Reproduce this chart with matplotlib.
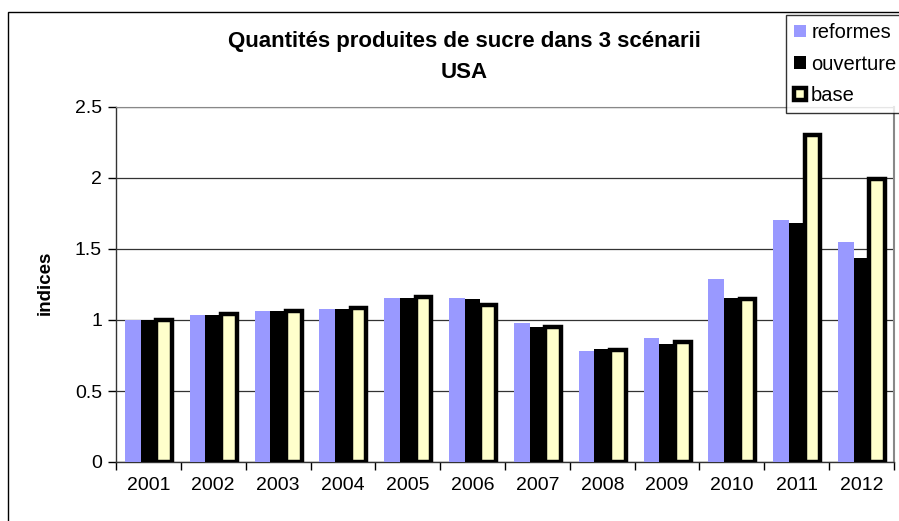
import matplotlib
matplotlib.use("Agg")
import matplotlib.pyplot as plt
import numpy as np
from matplotlib.patches import Rectangle

years = ["2001", "2002", "2003", "2004", "2005", "2006", "2007", "2008", "2009", "2010", "2011", "2012"]
reformes = [1.00, 1.035, 1.063, 1.077, 1.157, 1.157, 0.979, 0.782, 0.873, 1.288, 1.703, 1.548]
ouverture = [1.00, 1.035, 1.063, 1.077, 1.157, 1.148, 0.951, 0.796, 0.831, 1.155, 1.682, 1.436]
base = [1.00, 1.04, 1.065, 1.085, 1.16, 1.108, 0.95, 0.787, 0.848, 1.146, 2.30, 1.993]
yticks = [0, 0.5, 1, 1.5, 2, 2.5]
ytick_labels = ["0", "0.5", "1", "1.5", "2", "2.5"]

plt.rcParams['font.family'] = ['Liberation Sans', 'DejaVu Sans']

W, H = 899, 521
fig = plt.figure(figsize=(W / 100, H / 100), dpi=100)
fig.patch.set_facecolor("white")

# outer chart border
fig.patches.append(Rectangle((8 / W, -0.05), 1.2, (H - 12) / H + 0.05, transform=fig.transFigure,
                             fill=False, edgecolor="black", linewidth=1.0))

ax = fig.add_axes([116 / W, (H - 462) / H, (894 - 116) / W, (462 - 107) / H])
x = np.arange(len(years))
w = 0.241
ax.bar(x - w, reformes, w, color="#9999FF", linewidth=0, label="reformes", zorder=3)
ax.bar(x, ouverture, w, color="black", linewidth=0, label="ouverture", zorder=3)
ax.bar(x + w, base, w, color="#FFFFCC", edgecolor="black", linewidth=3.2, label="base", zorder=4)

ax.set_xlim(-0.5, len(years) - 0.5)
ax.set_ylim(0, 2.5)
ax.set_yticks(yticks)
ax.set_yticklabels(ytick_labels, fontsize=14)
ax.set_xticks(x)
ax.set_xticklabels(years, fontsize=14)
ax.tick_params(axis="x", length=0, pad=11)
ax.set_xticks(np.arange(len(years) + 1) - 0.5, minor=True)
ax.tick_params(axis="x", which="minor", length=6, width=1, direction="out")
ax.tick_params(axis="y", length=6, width=1, direction="out", pad=4)
ax.grid(axis="y", color="#333333", linewidth=0.9, zorder=0)
ax.spines["top"].set_color("#888888")
ax.spines["right"].set_color("#888888")
ax.spines["right"].set_linewidth(1.5)
for s in ["left", "bottom"]:
    ax.spines[s].set_color("#333333")
    ax.spines[s].set_linewidth(1.0)

fig.text(45 / W, 1 - 283 / H, "indices", rotation=90, fontsize=13.5, fontweight="bold",
         ha="center", va="center")
fig.text(464 / W, 1 - 42 / H, "Quantités produites de sucre dans 3 scénarii", fontsize=16,
         fontweight="bold", ha="center", va="center")
fig.text(464 / W, 1 - 73 / H, "USA", fontsize=16, fontweight="bold", ha="center", va="center")

leg = fig.legend(loc="upper left", bbox_to_anchor=(786 / W, 1 - 15 / H), fontsize=14.5,
                 frameon=True, fancybox=False, shadow=False, handlelength=0.6, handleheight=0.6,
                 handletextpad=0.25, labelspacing=0.62, borderpad=0.4, borderaxespad=0)
leg.get_frame().set_edgecolor("black")
leg.get_frame().set_linewidth(1.0)
for h in leg.legend_handles:
    if h.get_label() == "base":
        h.set_linewidth(2.5)

fig.savefig("out.png", dpi=100)
